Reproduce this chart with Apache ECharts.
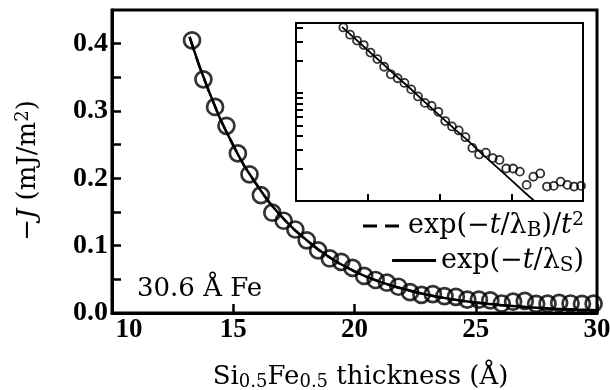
<!DOCTYPE html>
<html>
<head>
<meta charset="utf-8">
<script src="https://cdn.jsdelivr.net/npm/echarts@6/dist/echarts.min.js"></script>
<style>
  html, body { margin: 0; padding: 0; background: #fff; }
  #chart { width: 610px; height: 390px; }
</style>
</head>
<body>
<div id="chart"></div>
<script>
// spacer thickness t (Angstrom) and measured -J (mJ/m^2)
const thickness = [13.30, 13.77, 14.25, 14.72, 15.19, 15.67, 16.14, 16.61, 17.08, 17.56,
  18.03, 18.50, 18.98, 19.45, 19.92, 20.40, 20.87, 21.34, 21.81, 22.29,
  22.76, 23.23, 23.71, 24.18, 24.65, 25.13, 25.60, 26.07, 26.54, 27.02,
  27.49, 27.96, 28.44, 28.91, 29.38, 29.86];
const coupling = [0.405, 0.347, 0.306, 0.278, 0.237, 0.206, 0.175, 0.149, 0.137, 0.124,
  0.108, 0.093, 0.081, 0.076, 0.067, 0.055, 0.049, 0.045, 0.039, 0.031,
  0.027, 0.028, 0.025, 0.024, 0.020, 0.020, 0.0187, 0.0141, 0.0168, 0.018,
  0.0136, 0.0138, 0.0151, 0.0141, 0.0136, 0.0138];

// fitted curves
const fitT = [13.2, 14, 15, 16, 17, 18, 19, 20, 21, 22, 23, 24, 25, 26, 27, 28, 29, 30];
const fitS = [0.41, 0.329, 0.249, 0.189, 0.143, 0.109, 0.082, 0.062, 0.047, 0.036,
  0.027, 0.0206, 0.0156, 0.0118, 0.009, 0.0068, 0.0052, 0.0039];
const fitB = [0.41, 0.329, 0.249, 0.189, 0.143, 0.109, 0.082, 0.062, 0.047, 0.036,
  0.027, 0.0206, 0.0156, 0.0118, 0.009, 0.0068, 0.0052, 0.0039];

const yLabels = [0, 0.1, 0.2, 0.3, 0.4];
const yTicks = [0, 0.05, 0.1, 0.15, 0.2, 0.25, 0.3, 0.35, 0.4];
const insetTicks = [0.02, 0.03, 0.04, 0.05, 0.06, 0.07, 0.08, 0.09, 0.1, 0.2, 0.3, 0.4];

const nameB = "exp(-t/lB)/t2";
const nameS = "exp(-t/lS)";
const serif = "Liberation Serif";
const wide = "DejaVu Serif";

const pairs = (xs, ys) => xs.map((x, i) => [x, ys[i]]);

const txt = { fontFamily: wide, fontSize: 26, color: "#000" };
const rich = {
  i: { fontFamily: wide, fontSize: 26, fontStyle: "italic", color: "#000" },
  sub: { fontFamily: wide, fontSize: 18, color: "#000", verticalAlign: "bottom", padding: [10, 0, 0, 0] },
  sup: { fontFamily: wide, fontSize: 18, color: "#000", verticalAlign: "top", padding: [0, 0, 10, 0] },
  shift: { fontFamily: serif, fontSize: 27, fontWeight: "bold", color: "#000", padding: [0, 0, 0, 34] },
};
const legendTxt = { fontFamily: wide, fontSize: 27, color: "#000" };
const legendRich = {
  i: { fontFamily: wide, fontSize: 27, fontStyle: "italic", color: "#000" },
  sub: { fontFamily: wide, fontSize: 20, color: "#000", verticalAlign: "bottom", padding: [10, 0, 0, 0] },
  sup: { fontFamily: wide, fontSize: 19, color: "#000", verticalAlign: "top", padding: [0, 0, 10, 0] },
  gap: { width: 4 },
};

const chart = echarts.init(document.getElementById("chart"));
chart.setOption({
  animation: false,
  backgroundColor: "#fff",
  color: ["#000"],
  title: {
    text: "30.6 Å Fe",
    left: 137,
    top: 276,
    padding: 0,
    textStyle: { fontFamily: wide, fontSize: 26, fontWeight: "normal", color: "#000" },
  },
  legend: [
    {
      data: [nameB],
      right: 26,
      top: 211,
      padding: 0,
      itemWidth: 36,
      itemHeight: 14,
      itemStyle: { opacity: 0 },
      lineStyle: { color: "#000", width: 3, type: [14, 8] },
      textStyle: Object.assign({ rich: legendRich }, legendTxt),
      formatter: () => "{gap|}exp(−{i|t}/λ{sub|B})/{i|t}{sup|2}",
    },
    {
      data: [nameS],
      right: 26,
      top: 247,
      padding: 0,
      itemWidth: 44,
      itemHeight: 14,
      itemStyle: { opacity: 0 },
      lineStyle: { color: "#000", width: 3, type: "solid" },
      textStyle: Object.assign({ rich: legendRich }, legendTxt),
      formatter: () => "exp(−{i|t}/λ{sub|S})",
    },
  ],
  grid: [
    { left: 112, top: 10, right: 13, bottom: 77, outerBoundsMode: "none", containLabel: false,
      show: true, borderWidth: 3, borderColor: "#000" },
    { left: 296, top: 23, right: 27, bottom: 189, outerBoundsMode: "none", containLabel: false,
      show: true, borderWidth: 2, borderColor: "#000", backgroundColor: "#fff" },
  ],
  xAxis: [
    {
      type: "value",
      gridIndex: 0,
      min: 10,
      max: 30,
      interval: 5,
      name: "Si{sub|0.5}Fe{sub|0.5} thickness (Å)",
      nameLocation: "middle",
      nameGap: 50,
      nameTextStyle: Object.assign({ rich: rich, padding: [0, 0, 0, 12] }, txt),
      axisLine: { lineStyle: { color: "#000", width: 3 } },
      axisTick: { inside: true, length: 9, lineStyle: { color: "#000", width: 2.5 } },
      axisLabel: {
        margin: 4,
        fontFamily: serif,
        fontSize: 27,
        fontWeight: "bold",
        color: "#000",
        rich: rich,
        formatter: (v) => (v === 10 ? "{shift|10}" : String(v)),
      },
      splitLine: { show: false },
    },
    {
      type: "value",
      gridIndex: 1,
      min: 10,
      max: 30,
      interval: 5,
      axisLine: { lineStyle: { color: "#000", width: 2 } },
      axisTick: { inside: true, length: 7, lineStyle: { color: "#000", width: 2 } },
      axisLabel: { show: false },
      splitLine: { show: false },
    },
  ],
  yAxis: [
    {
      type: "value",
      gridIndex: 0,
      min: 0,
      max: 0.45,
      name: "−{i|J} (mJ/m{sup|2})",
      nameLocation: "middle",
      nameRotate: 90,
      nameGap: 70,
      nameTextStyle: Object.assign({ rich: rich, padding: [0, 18, 0, 0] }, txt),
      axisLine: { lineStyle: { color: "#000", width: 3 } },
      axisTick: { inside: true, length: 9, customValues: yTicks, lineStyle: { color: "#000", width: 2.5 } },
      axisLabel: {
        margin: 4,
        customValues: yLabels,
        fontFamily: serif,
        fontSize: 28,
        fontWeight: "bold",
        color: "#000",
        formatter: (v) => v.toFixed(1),
      },
      splitLine: { show: false },
    },
    {
      type: "log",
      logBase: 10,
      gridIndex: 1,
      min: 0.01,
      max: 0.445,
      axisLine: { lineStyle: { color: "#000", width: 2 } },
      axisTick: { inside: true, length: 7, customValues: insetTicks, lineStyle: { color: "#000", width: 2 } },
      axisLabel: { show: false },
      splitLine: { show: false },
    },
  ],
  series: [
    {
      name: nameB,
      type: "line",
      xAxisIndex: 0,
      yAxisIndex: 0,
      data: pairs(fitT, fitB),
      smooth: true,
      symbol: "none",
      itemStyle: { color: "#000" },
      lineStyle: { color: "#000", width: 2.5, type: [14, 8] },
      z: 2,
    },
    {
      name: nameS,
      type: "line",
      xAxisIndex: 0,
      yAxisIndex: 0,
      data: pairs(fitT, fitS),
      smooth: true,
      symbol: "none",
      itemStyle: { color: "#000" },
      lineStyle: { color: "#000", width: 2.5 },
      z: 3,
    },
    {
      name: "data",
      type: "scatter",
      xAxisIndex: 0,
      yAxisIndex: 0,
      data: pairs(thickness, coupling),
      symbol: "circle",
      symbolSize: 16,
      itemStyle: { color: "rgba(0,0,0,0)", borderColor: "#000", borderWidth: 2.7 },
      z: 4,
    },
    {
      name: "inset fit",
      type: "line",
      xAxisIndex: 1,
      yAxisIndex: 1,
      data: pairs(fitT, fitS),
      symbol: "none",
      lineStyle: { color: "#000", width: 1.8 },
      z: 5,
    },
    {
      name: "inset data",
      type: "scatter",
      xAxisIndex: 1,
      yAxisIndex: 1,
      data: pairs(thickness, coupling),
      symbol: "circle",
      symbolSize: 8,
      itemStyle: { color: "rgba(0,0,0,0)", borderColor: "#000", borderWidth: 1.8 },
      z: 6,
    },
  ],
});
</script>
</body>
</html>
